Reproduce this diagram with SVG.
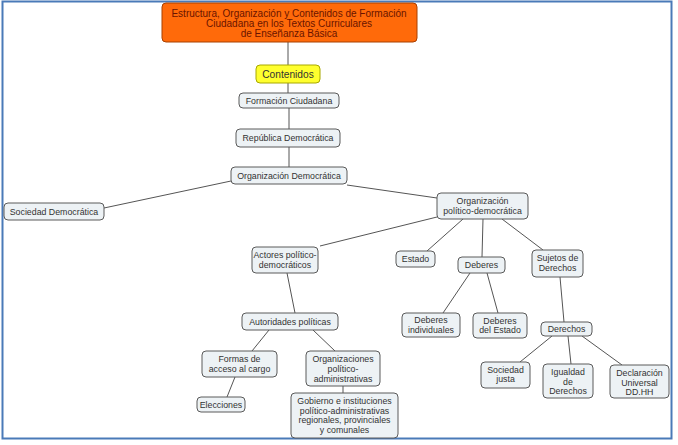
<svg xmlns="http://www.w3.org/2000/svg" width="678" height="445" viewBox="0 0 678 445">
<defs>
<style>
.frame{fill:#ffffff;stroke:#4a7ab8;stroke-width:2}
.node rect{fill:#edf2f5;stroke:#5a5a5a;stroke-width:1}
.node text{font-family:"Liberation Sans",Arial,sans-serif;font-size:8.8px;fill:#333333;text-anchor:middle}
#title rect{fill:#ff6a0a;stroke:#a84000;stroke-width:1}
#title text{font-size:10px;fill:#6a1400}
#contenidos rect{fill:#ffff2e;stroke:#a8a800;stroke-width:1}
#contenidos text{font-size:10.2px;fill:#333333}
.conn line{stroke:#555555;stroke-width:1}
</style>
</defs>
<rect class="frame" x="2.5" y="1.5" width="669" height="437"/>
<g class="conn" id="connectors">
<line x1="288" y1="42" x2="288" y2="65"/>
<line x1="288" y1="83" x2="288" y2="93"/>
<line x1="289" y1="108" x2="289" y2="129"/>
<line x1="289" y1="147" x2="289" y2="167"/>
<line x1="231" y1="181" x2="104" y2="208"/>
<line x1="347" y1="185" x2="437" y2="198"/>
<line x1="437" y1="217" x2="320" y2="246"/>
<line x1="463" y1="219" x2="427" y2="251"/>
<line x1="483" y1="219" x2="482" y2="257"/>
<line x1="502" y1="219" x2="543" y2="250"/>
<line x1="287" y1="273" x2="295" y2="313"/>
<line x1="269" y1="330" x2="252" y2="351"/>
<line x1="313" y1="330" x2="335" y2="351"/>
<line x1="235" y1="377" x2="227" y2="397"/>
<line x1="343" y1="386" x2="343" y2="393"/>
<line x1="470" y1="273" x2="443" y2="313"/>
<line x1="487" y1="273" x2="498" y2="313"/>
<line x1="560" y1="277" x2="564" y2="322"/>
<line x1="552" y1="336" x2="520" y2="362"/>
<line x1="568" y1="336" x2="571" y2="364"/>
<line x1="582" y1="336" x2="622" y2="365"/>
</g>
<g class="node" id="title"><rect x="162" y="3" width="255" height="39" rx="4"/>
<text x="289" y="16.5">Estructura, Organización y Contenidos de Formación</text>
<text x="289" y="26.5">Ciudadana en los Textos Curriculares</text>
<text x="289" y="36.5">de Enseñanza Básica</text></g>
<g class="node" id="contenidos"><rect x="256" y="65" width="64" height="18" rx="4"/>
<text x="288" y="77.5">Contenidos</text></g>
<g class="node" id="formacion"><rect x="239" y="93" width="100" height="15" rx="4"/>
<text x="289" y="103.5">Formación Ciudadana</text></g>
<g class="node" id="republica"><rect x="236" y="129" width="104" height="18" rx="4"/>
<text x="288" y="141">República Democrática</text></g>
<g class="node" id="orgdem"><rect x="231" y="167" width="116" height="17" rx="4"/>
<text x="289" y="178.5">Organización Democrática</text></g>
<g class="node" id="socdem"><rect x="4" y="203" width="100" height="17" rx="4"/>
<text x="54" y="214.5">Sociedad Democrática</text></g>
<g class="node" id="opd"><rect x="437" y="193" width="91" height="26" rx="4"/>
<text x="482.5" y="204">Organización</text>
<text x="482.5" y="214">político-democrática</text></g>
<g class="node" id="actores"><rect x="252" y="247" width="66" height="26" rx="4"/>
<text x="285" y="258">Actores político-</text>
<text x="285" y="268">democráticos</text></g>
<g class="node" id="estado"><rect x="396" y="251" width="39" height="16" rx="4"/>
<text x="415.5" y="262">Estado</text></g>
<g class="node" id="deberes"><rect x="458" y="257" width="47" height="16" rx="4"/>
<text x="481.5" y="268">Deberes</text></g>
<g class="node" id="sujetos"><rect x="532" y="250" width="51" height="27" rx="4"/>
<text x="557.5" y="261">Sujetos de</text>
<text x="557.5" y="271">Derechos</text></g>
<g class="node" id="autoridades"><rect x="242" y="313" width="96" height="17" rx="4"/>
<text x="290" y="324.5">Autoridades políticas</text></g>
<g class="node" id="formas"><rect x="202" y="351" width="75" height="26" rx="4"/>
<text x="239.5" y="362">Formas de</text>
<text x="239.5" y="372">acceso al cargo</text></g>
<g class="node" id="organizaciones"><rect x="306" y="351" width="74" height="35" rx="4"/>
<text x="343" y="362">Organizaciones</text>
<text x="343" y="372">político-</text>
<text x="343" y="382">administrativas</text></g>
<g class="node" id="elecciones"><rect x="197" y="397" width="48" height="15" rx="4"/>
<text x="221" y="407.5">Elecciones</text></g>
<g class="node" id="gobierno"><rect x="291" y="393" width="107" height="45" rx="4"/>
<text x="344.5" y="404">Gobierno e instituciones</text>
<text x="344.5" y="413.5">político-administrativas</text>
<text x="344.5" y="423">regionales, provinciales</text>
<text x="344.5" y="432.5">y comunales</text></g>
<g class="node" id="debind"><rect x="402" y="313" width="58" height="24" rx="4"/>
<text x="431" y="323">Deberes</text>
<text x="431" y="332.5">individuales</text></g>
<g class="node" id="debest"><rect x="473" y="313" width="54" height="25" rx="4"/>
<text x="500" y="323.5">Deberes</text>
<text x="500" y="333">del Estado</text></g>
<g class="node" id="derechos"><rect x="541" y="322" width="51" height="14" rx="4"/>
<text x="566.5" y="332">Derechos</text></g>
<g class="node" id="socjusta"><rect x="481" y="362" width="49" height="26" rx="4"/>
<text x="505.5" y="373">Sociedad</text>
<text x="505.5" y="382">justa</text></g>
<g class="node" id="igualdad"><rect x="543" y="364" width="50" height="34" rx="4"/>
<text x="568" y="375">Igualdad</text>
<text x="568" y="384.5">de</text>
<text x="568" y="394">Derechos</text></g>
<g class="node" id="declaracion"><rect x="610" y="365" width="59" height="33" rx="4"/>
<text x="639.5" y="376">Declaración</text>
<text x="639.5" y="385.5">Universal</text>
<text x="639.5" y="395">DD.HH</text></g>
</svg>
